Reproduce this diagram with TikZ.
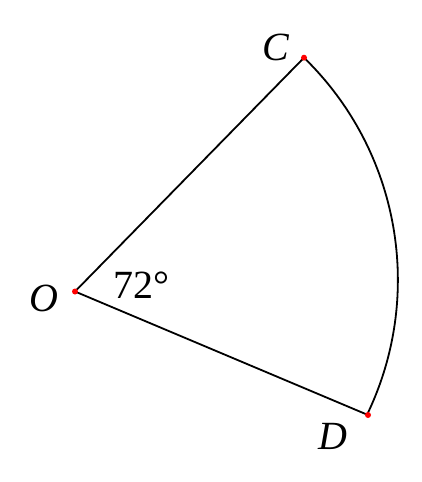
\documentclass[tikz,border=0pt]{standalone}
\usepackage{fontspec}
\setmainfont{Liberation Serif}
\usetikzlibrary{positioning}

\tikzset{
  pt/.style={circle,fill=red,inner sep=0pt,minimum size=6pt},
  lbl/.style={font=\fontsize{40}{46}\selectfont\itshape,inner sep=0pt},
  seg/.style={black,line width=1.8pt}
}

\begin{document}
\begin{tikzpicture}[x=1pt,y=-1pt]
\useasboundingbox (0,0) rectangle (422,482);

\coordinate (O) at (75,291.5);
\coordinate (C) at (304,57.7);
\coordinate (D) at (368,415);

\draw[seg] (O) -- (C);
\draw[seg] (O) -- (D);
\draw[seg] (C) arc[start angle=45.8,end angle=-25.7,radius=310pt];

% points
\node[pt] (dO) at (O) {};
\node[pt] (dC) at (C) {};
\node[pt] (dD) at (D) {};

\node[lbl] (lO) at (44,298) {O};
\node[lbl] (lC) at (276,47) {C};
\node[lbl] (lD) at (333,436) {D};
\node[lbl,font=\fontsize{40}{46}\selectfont] (ang) at (141,285) {72°};
\end{tikzpicture}
\end{document}
